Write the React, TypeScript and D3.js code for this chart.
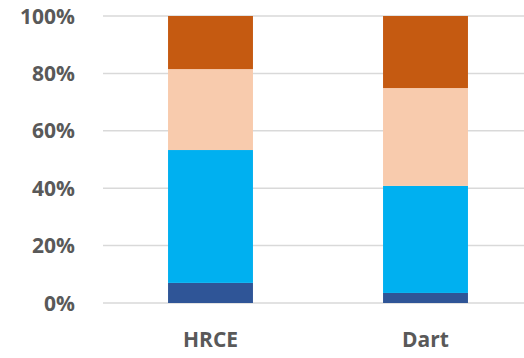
import React from "react";
import * as d3 from "d3";

const categories = ["HRCE", "Dart"];
const seriesNames = ["Dark blue", "Blue", "Peach", "Orange"];
const darkBlue = [7, 3.5];
const blue = [46.3, 37.3];
const peach = [28.2, 34.1];
const orange = [18.5, 25.1];
const colors = ["#2F5597", "#00B0F0", "#F8CBAD", "#C55A11"];
const yTicks = [0, 20, 40, 60, 80, 100];

const W = 524;
const H = 358;

export default function App() {
  const rows = categories.map((c, i) => ({
    cat: c,
    s0: darkBlue[i],
    s1: blue[i],
    s2: peach[i],
    s3: orange[i],
  }));
  const keys = ["s0", "s1", "s2", "s3"];
  const stacked = d3.stack<any>().keys(keys).offset(d3.stackOffsetExpand)(rows);

  const x = d3
    .scaleBand<string>()
    .domain(categories)
    .range([103, 533])
    .paddingInner(0.605)
    .paddingOuter(0.3025);
  const y = d3.scaleLinear().domain([0, 1]).range([303, 16]);

  const font = "'Open Sans', 'DejaVu Sans', sans-serif";

  return (
    <svg
      width={W}
      height={H}
      style={{ position: "absolute", left: 0, top: 0, background: "#fff" }}
    >
      {yTicks.map((t) => (
        <g key={t}>
          <line
            x1={103}
            x2={524}
            y1={y(t / 100)}
            y2={y(t / 100)}
            stroke="#D9D9D9"
            strokeWidth={1.5}
          />
          <text
            x={75}
            y={y(t / 100)}
            dy="0.36em"
            textAnchor="end"
            fontFamily={font}
            fontWeight={700}
            fontSize={21}
            fill="#595959"
          >
            {t}%
          </text>
        </g>
      ))}
      {stacked.map((layer, li) => (
        <g key={seriesNames[li]} fill={colors[li]}>
          {layer.map((d, i) => (
            <rect
              key={i}
              x={x(categories[i])}
              width={x.bandwidth()}
              y={y(d[1])}
              height={y(d[0]) - y(d[1])}
            />
          ))}
        </g>
      ))}
      {categories.map((c) => (
        <text
          key={c}
          x={(x(c) as number) + x.bandwidth() / 2}
          y={339}
          dy="0.36em"
          textAnchor="middle"
          fontFamily={font}
          fontWeight={700}
          fontSize={21}
          fill="#595959"
        >
          {c}
        </text>
      ))}
    </svg>
  );
}
